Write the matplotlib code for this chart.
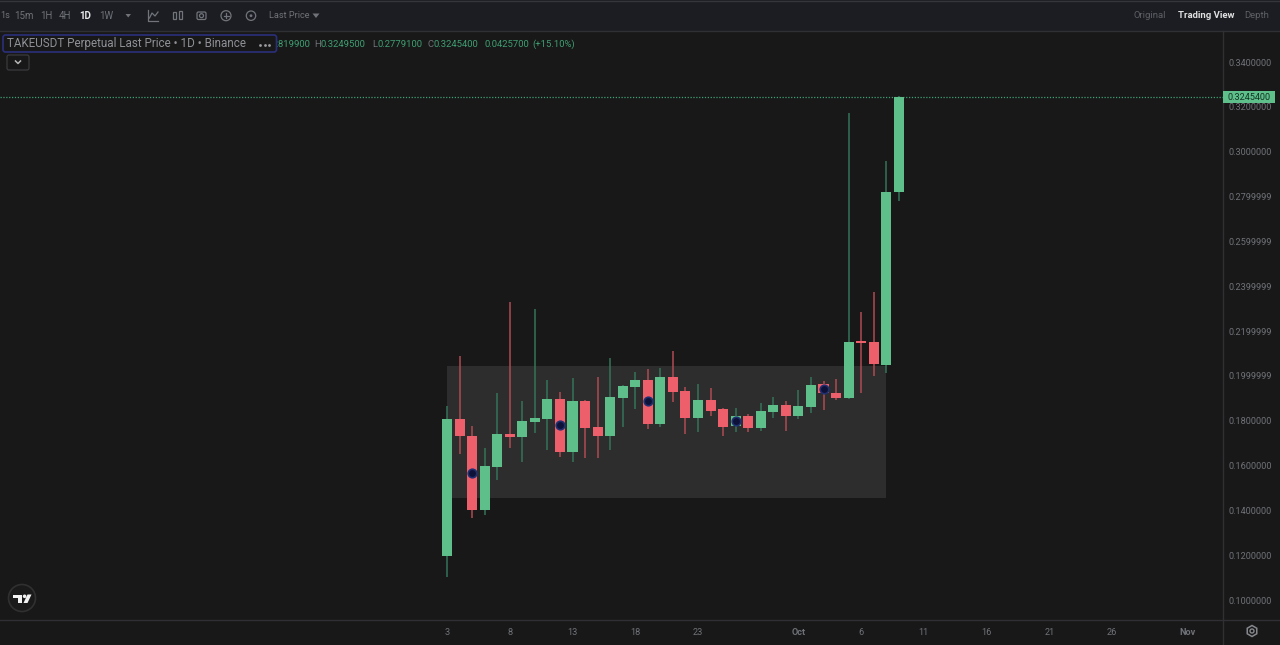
import matplotlib
matplotlib.use("Agg")
import matplotlib.pyplot as plt
from matplotlib.patches import Rectangle, FancyBboxPatch, Circle, Polygon, RegularPolygon

plt.rcParams['font.family'] = ['Roboto', 'DejaVu Sans']

# daily candles, first one is 3 Sep
opens = [.1196, .1807, .1733, .1402, .1593, .1741, .1726, .1794, .1807, .1897, .1662, .1888,
         .1770, .1733, .1901, .1952, .1981, .1785, .1996, .1932, .1812, .1891, .1851, .1776,
         .1819, .1767, .1839, .1870, .1819, .1862, .1962, .1925, .1900, .2155, .2150, .2048, .2819]
highs = [.1867, .2090, .1776, .1678, .1923, .2329, .1888, .2298, .1981, .1928, .1992, .1892,
         .1996, .2081, .1960, .2017, .2031, .2035, .2112, .1952, .1964, .1947, .1855, .1855,
         .1830, .1877, .1904, .1888, .1937, .1996, .1978, .1986, .3174, .2283, .2375, .2958, .32495]
lows = [.1103, .1650, .1367, .1379, .1535, .1679, .1617, .1745, .1669, .1638, .1617, .1633,
        .1633, .1669, .1772, .1852, .1763, .1772, .1883, .1739, .1751, .1821, .1733, .1748,
        .1751, .1755, .1813, .1755, .1807, .1836, .1848, .1892, .1897, .1923, .2001, .2011, .27791]
closes = [.1807, .1730, .1400, .1598, .1741, .1726, .1798, .1812, .1897, .1662, .1888, .1767,
          .1733, .1904, .1956, .1981, .1785, .1996, .1928, .1812, .1891, .1844, .1773, .1819,
          .1767, .1842, .1870, .1819, .1867, .1960, .1922, .1900, .2152, .2145, .2051, .2819, .32454]

marker_days = [2, 9, 16, 23, 30]
marker_prices = [.1568, .1781, .1888, .1799, .1943]

box_days = [0, 35]
box_prices = [.1455, .2044]

last_price = .32454

price_ticks = [.34, .32, .30, .28, .26, .24, .22, .20, .18, .16, .14, .12, .10]
price_labels = ['0.3400000', '0.3200000', '0.3000000', '0.2799999', '0.2599999', '0.2399999',
                '0.2199999', '0.1999999', '0.1800000', '0.1600000', '0.1400000', '0.1200000', '0.1000000']
day_ticks = [0, 5, 10, 15, 20, 28, 33, 38, 43, 48, 53, 59]
day_labels = ['3', '8', '13', '18', '23', 'Oct', '6', '11', '16', '21', '26', 'Nov']

BG = '#181818'
BAR = '#1b1d22'
GRID = '#2f3033'
GREEN = '#5fbf8b'
RED = '#ee5f6c'
GREEN_WICK = '#33745a'
RED_WICK = '#b04a54'
GREY = '#6f7278'

fig = plt.figure(figsize=(12.8, 6.45), dpi=100, facecolor=BG)

# main price axes, placed to the pixel box of the chart
ax = fig.add_axes([0, 25 / 645, 1222.5 / 1280, 589 / 645], facecolor=BG)
ax.set_xlim(-447 / 12.55, (1222.5 - 447) / 12.55)
ax.set_ylim(0.36766 - 620 * 0.0004461, 0.36766 - 31 * 0.0004461)
for s in ax.spines.values():
    s.set_visible(False)

ax.add_patch(Rectangle((box_days[0], box_prices[0]), box_days[1] - box_days[0],
                       box_prices[1] - box_prices[0], facecolor='#2d2d2d', edgecolor='none', zorder=1))
ax.axhline(last_price, color='#3f9f72', lw=0.9, ls=(0, (1, 1.3)), zorder=1.5)

for i in range(len(opens)):
    up = closes[i] >= opens[i]
    ax.vlines(i, lows[i], highs[i], color=GREEN_WICK if up else RED_WICK, lw=1.1, zorder=2)
    ax.bar(i, abs(closes[i] - opens[i]), bottom=min(opens[i], closes[i]), width=0.8,
           color=GREEN if up else RED, zorder=3)

ax.scatter(marker_days, marker_prices, s=38, facecolor='#0f1238', edgecolor='#1f2f70', linewidth=1.2, zorder=4)

ax.yaxis.tick_right()
ax.set_yticks(price_ticks)
ax.set_yticklabels(price_labels, fontsize=6.6, color=GREY)
ax.set_xticks(day_ticks)
ax.set_xticklabels(day_labels, fontsize=6.6, color=GREY)
ax.get_xticklabels()[5].set_fontweight('bold')
ax.get_xticklabels()[11].set_fontweight('bold')
ax.tick_params(axis='y', length=0, pad=4.2)
ax.tick_params(axis='x', length=0, pad=5.5)

# overlay in pixel coordinates for the app chrome
top = fig.add_axes([0, 0, 1, 1], zorder=5)
top.set_xlim(0, 1280)
top.set_ylim(645, 0)
top.axis('off')
top.patch.set_alpha(0)

top.add_patch(Rectangle((0, 0), 1280, 31, facecolor=BAR, edgecolor='none'))
top.plot([0, 1280], [0.5, 0.5], color='#34363a', lw=1)
top.plot([0, 1280], [31, 31], color=GRID, lw=1)
top.plot([0, 1280], [620, 620], color=GRID, lw=1)
top.plot([1222.5, 1222.5], [31, 645], color=GRID, lw=1)


def label(x, y, s, color=GREY, size=6.6, ha='left', weight='normal', z=6):
    return top.text(x, y, s, color=color, fontsize=size, ha=ha, va='center', fontweight=weight, zorder=z)


label(0.5, 16, '1s', size=6.6)
label(24, 16, '15m', ha='center', size=7)
label(46.5, 16, '1H', ha='center', size=7)
label(65, 16, '4H', ha='center', size=7)
label(85, 16, '1D', color='#e6e6e6', ha='center', size=7, weight='bold')
label(106, 16, '1W', ha='center', size=7)
label(269, 16, 'Last Price', size=6.6)
top.add_patch(Polygon([(125.5, 14), (131, 14), (128.2, 17.5)], facecolor=GREY))
top.add_patch(Polygon([(312.5, 13.5), (319.5, 13.5), (316, 18)], facecolor=GREY))

label(1134, 16, 'Original', size=6.8, color='#5d6066')
label(1178, 16, 'Trading View', size=6.8, color='#e0e0e0', weight='bold')
label(1244, 16, 'Depth', size=6.8, color='#5d6066')

# toolbar icons
ic = '#71747a'
top.plot([148, 148, 158], [10, 21, 21], color=ic, lw=0.9)
top.plot([149.5, 152, 155, 158], [18, 13, 16, 12], color=ic, lw=0.9)
top.add_patch(Rectangle((173, 12), 3, 7, fill=False, edgecolor=ic, lw=0.9))
top.add_patch(Rectangle((179, 11), 3, 8, fill=False, edgecolor=ic, lw=0.9))
top.add_patch(FancyBboxPatch((197, 12), 9, 7.5, boxstyle='round,pad=0,rounding_size=1.5', fill=False, edgecolor=ic, lw=0.9))
top.add_patch(Circle((201.5, 15.7), 2, fill=False, edgecolor=ic, lw=0.9))
top.add_patch(Circle((226, 15.7), 5, fill=False, edgecolor=ic, lw=0.9))
top.plot([223.5, 228.5], [15.7, 15.7], color=ic, lw=0.9)
top.plot([226, 226], [13.2, 18.2], color=ic, lw=0.9)
top.add_patch(Circle((251, 15.7), 4.7, fill=False, edgecolor=ic, lw=0.9))
top.add_patch(Circle((251, 15.7), 1.4, facecolor=ic, edgecolor='none'))

# OHLC line, the box below hides the start of it
val = '#3f9f72'
label(310, 44.5, '0.2819900', color=val, ha='right', size=6.8)
label(314, 44.5, 'H', size=6.8)
label(320.5, 44.5, '0.3249500', color=val, size=6.8)
label(372, 44.5, 'L', size=6.8)
label(377, 44.5, '0.2779100', color=val, size=6.8)
label(428, 44.5, 'C', size=6.8)
label(434, 44.5, '0.3245400', color=val, size=6.8)
label(484.5, 44.5, '0.0425700', color=val, size=6.8)
label(532.5, 44.5, '(+15.10%)', color=val, size=6.8)

top.add_patch(FancyBboxPatch((3, 35), 273.5, 17, boxstyle='round,pad=0,rounding_size=2.5',
                             facecolor=BG, edgecolor='#2b2f7a', lw=1.2, zorder=7))
label(7, 44, 'TAKEUSDT Perpetual Last Price • 1D • Binance', color='#8f9196', size=8.4, z=8)
top.scatter([260, 264.5, 269], [44.5, 44.5, 44.5], s=4, color='#9a9ca0', zorder=8, linewidths=0)

top.add_patch(FancyBboxPatch((7, 55), 22, 15, boxstyle='round,pad=0,rounding_size=2',
                             facecolor=BG, edgecolor='#3a3b3e', lw=0.9))
top.plot([15.5, 18, 20.5], [61, 63.5, 61], color='#b5b5b5', lw=1.1)

# last price tag
top.add_patch(Rectangle((1223, 91), 52, 12, facecolor=GREEN, edgecolor='none', zorder=7))
label(1249, 97, '0.3245400', color='#123322', size=6.6, ha='center', z=8)

# logo
top.add_patch(Circle((22, 598), 13.5, facecolor='#1a1a1a', edgecolor='#303030', lw=1.2))
top.add_patch(Polygon([(13, 594.5), (22, 594.5), (22, 603), (18, 603), (18, 598), (13, 598)], facecolor='#f2f2f2'))
top.add_patch(Circle((24.6, 596.3), 1.8, facecolor='#f2f2f2'))
top.add_patch(Polygon([(27.5, 594.5), (31.5, 594.5), (27.5, 603), (23.5, 603)], facecolor='#f2f2f2'))

# settings gear
top.add_patch(RegularPolygon((1252, 631), 6, radius=5.5, fill=False, edgecolor='#85878c', lw=1.1))
top.add_patch(Circle((1252, 631), 2, fill=False, edgecolor='#85878c', lw=1))

fig.savefig('out.png', dpi=100, facecolor=BG)
